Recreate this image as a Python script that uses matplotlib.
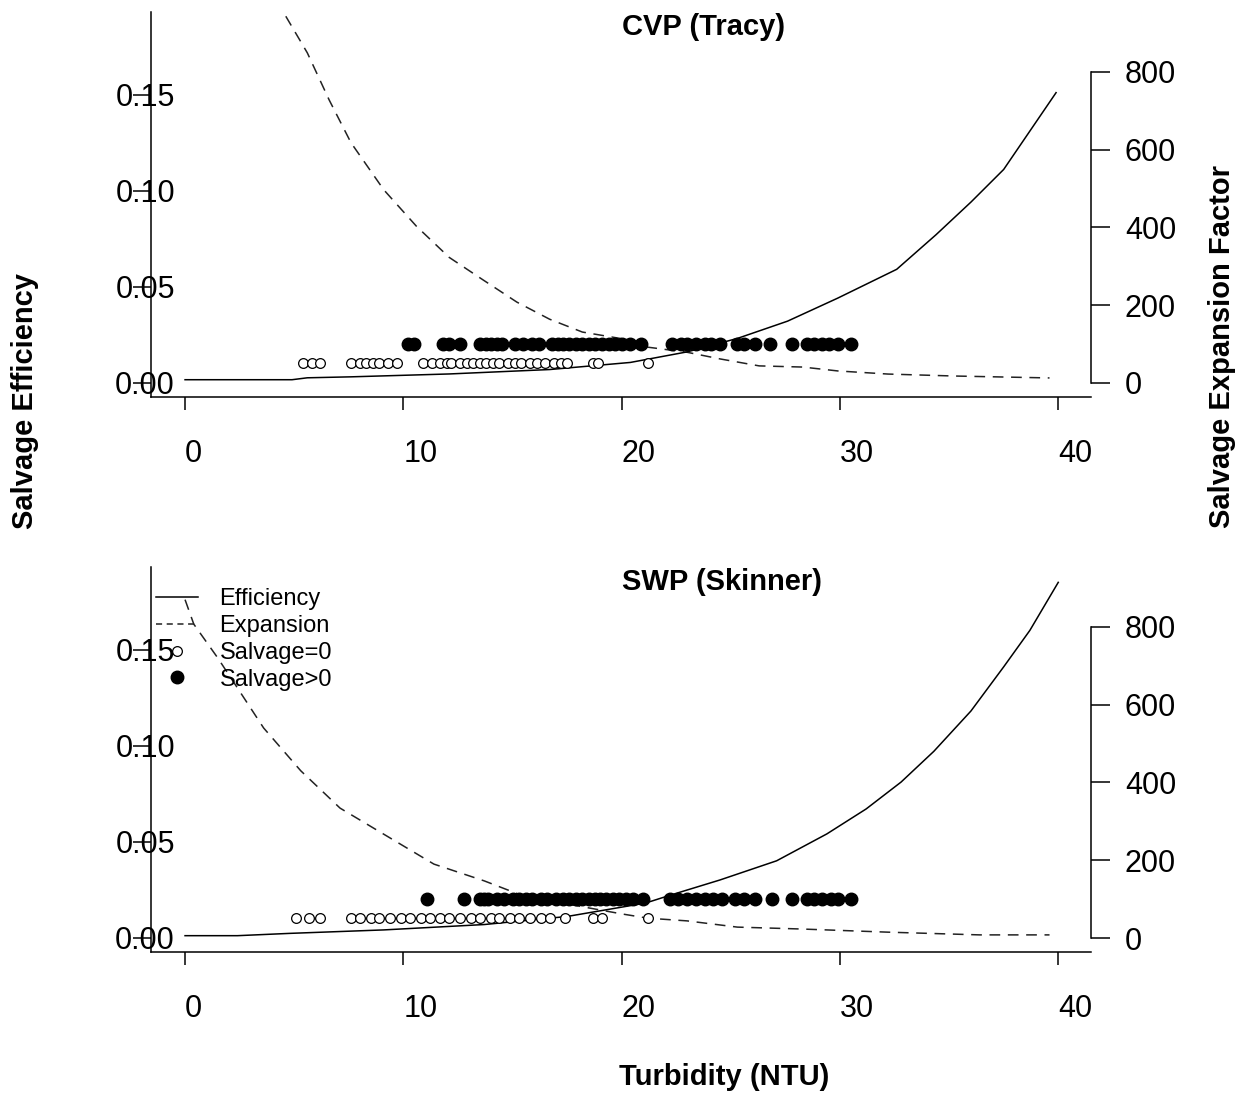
import numpy as np
import matplotlib
matplotlib.use("Agg")
import matplotlib.pyplot as plt
from matplotlib.lines import Line2D
import matplotlib.transforms as mtransforms

plt.rcParams['font.family'] = ['Liberation Sans', 'DejaVu Sans']

# CVP (Tracy) panel
cvp_eff_turb = [0.0, 4.9, 5.6, 7.6, 12.1, 16.7, 20.4, 23.0, 25.3, 27.6, 29.9,
                32.6, 34.4, 36.0, 37.5, 39.0, 39.9]
cvp_eff = [0.0015, 0.0015, 0.0025, 0.003, 0.0045, 0.0068, 0.0105, 0.016, 0.023,
           0.032, 0.044, 0.059, 0.077, 0.094, 0.111, 0.136, 0.151]
cvp_exp_turb = [4.3, 4.5, 5.6, 6.6, 7.6, 9.1, 10.6, 12.1, 13.6, 15.2, 16.7, 18.2,
                20.1, 20.8, 23.0, 24.5, 26.3, 28.3, 29.9, 32.2, 35.2, 39.6]
cvp_exp = [1000, 954, 849, 728, 618, 497, 403, 323, 267, 208, 164, 131,
           113, 95, 79, 62, 44, 41, 31, 23, 18, 13]
cvp_zero = [5.4, 5.8, 6.2, 7.6, 8.0, 8.3, 8.6, 8.9, 9.3, 9.7, 10.9, 11.3, 11.7,
            12.0, 12.2, 12.6, 12.9, 13.2, 13.5, 13.8, 14.1, 14.4, 14.8, 15.1,
            15.4, 15.8, 16.1, 16.5, 16.9, 17.2, 17.5, 18.7, 18.9, 21.2]
cvp_pos = [10.2, 10.5, 11.8, 12.1, 12.6, 13.5, 13.8, 14.0, 14.3, 14.5, 15.1,
           15.5, 15.9, 16.2, 16.8, 17.1, 17.3, 17.6, 17.9, 18.2, 18.5, 18.8,
           19.1, 19.4, 19.7, 20.0, 20.4, 20.9, 22.3, 22.7, 23.0, 23.4, 23.8,
           24.1, 24.5, 25.3, 25.6, 26.1, 26.8, 27.8, 28.5, 28.8, 29.2, 29.5,
           29.9, 30.5]

# SWP (Skinner) panel
swp_eff_turb = [0.0, 2.4, 4.8, 9.1, 13.7, 17.5, 21.1, 22.2, 24.5, 27.1, 29.4,
                31.2, 32.8, 34.3, 36.0, 37.5, 38.7, 40.0]
swp_eff = [0.001, 0.001, 0.0022, 0.004, 0.0068, 0.011, 0.018, 0.022, 0.030,
           0.040, 0.054, 0.067, 0.081, 0.097, 0.118, 0.141, 0.160, 0.185]
swp_exp_turb = [0.0, 0.4, 1.5, 2.4, 3.6, 5.3, 7.1, 9.1, 11.4, 13.7, 15.5, 20.0,
                21.2, 23.0, 25.3, 28.3, 32.2, 36.4, 39.6]
swp_exp = [870, 807, 720, 643, 540, 430, 334, 267, 190, 147, 108, 62,
           51, 44, 28, 23, 15, 8, 8]
swp_zero = [5.1, 5.7, 6.2, 7.6, 8.0, 8.5, 8.9, 9.4, 9.9, 10.3, 10.8, 11.2, 11.7,
            12.1, 12.6, 13.1, 13.5, 14.0, 14.4, 14.9, 15.3, 15.8, 16.3, 16.7,
            17.4, 18.7, 19.1, 21.2]
swp_pos = [11.1, 12.8, 13.5, 13.7, 13.9, 14.3, 14.6, 15.0, 15.3, 15.6, 15.9,
           16.3, 16.6, 17.0, 17.3, 17.6, 17.9, 18.2, 18.5, 18.8, 19.0, 19.3,
           19.6, 19.9, 20.2, 20.5, 21.0, 22.2, 22.6, 23.0, 23.4, 23.8, 24.2,
           24.6, 25.2, 25.6, 26.1, 26.9, 27.8, 28.5, 28.8, 29.2, 29.6, 29.9,
           30.5]

zero_level = 0.01
pos_level = 0.02

panels = [
    ("CVP (Tracy)", cvp_eff_turb, cvp_eff, cvp_exp_turb, cvp_exp, cvp_zero, cvp_pos),
    ("SWP (Skinner)", swp_eff_turb, swp_eff, swp_exp_turb, swp_exp, swp_zero, swp_pos),
]

W, H = 1247, 1093
fig = plt.figure(figsize=(W / 100, H / 100), dpi=100)

px = 72 / 100  # points per pixel
boxes = [(151, 12, 1091, 397), (151, 567, 1091, 952)]

for i, (title, et, ev, xt, xv, z, p) in enumerate(panels):
    l, t, r, b = boxes[i]
    ax = fig.add_axes([l / W, 1 - b / H, (r - l) / W, (b - t) / H])
    ax2 = ax.twinx()
    ax.set_zorder(ax2.get_zorder() + 1)
    ax.patch.set_visible(False)

    ax.plot(et, ev, color='black', lw=1.1, solid_joinstyle='round')
    ax2.plot(xt, xv, color='#222222', lw=1.1, dashes=(7, 5))
    ax.plot(z, [zero_level] * len(z), 'o', mfc='white', mec='black', ms=7, mew=0.9)
    ax.plot(p, [pos_level] * len(p), 'o', color='black', ms=9)

    ax.set_xlim(-1.56, 41.5)
    ax.set_ylim(-0.0075, 0.193)
    ax2.set_ylim(-36, 954)

    for s in ['top', 'right']:
        ax.spines[s].set_visible(False)
    for s in ['top', 'left', 'bottom']:
        ax2.spines[s].set_visible(False)
    ax2.spines['right'].set_bounds(0, 800)
    for s in ax.spines.values():
        s.set_linewidth(1.1)
    ax2.spines['right'].set_linewidth(1.1)

    ax.set_xticks([0, 10, 20, 30, 40])
    ax.set_yticks([0.0, 0.05, 0.10, 0.15])
    ax.set_yticklabels(['0.00', '0.05', '0.10', '0.15'])
    ax2.set_yticks([0, 200, 400, 600, 800])

    ax.tick_params(axis='x', direction='out', length=13 * px, width=1.1,
                   labelsize=22, pad=21)
    ax.tick_params(axis='y', direction='out', length=18 * px, width=1.1,
                   labelsize=22, pad=-42 * px)
    ax2.tick_params(axis='y', direction='out', length=19 * px, width=1.1,
                    labelsize=22, pad=15 * px)
    for lab in ax.get_xticklabels():
        lab.set_horizontalalignment('left')

    trans = mtransforms.blended_transform_factory(ax.transData, ax.transAxes)
    ax.text(20, 0.96, title, transform=trans, ha='left', va='center',
            fontsize=21, fontweight='bold')

    if i == 1:
        handles = [
            Line2D([], [], color='black', lw=1.1),
            Line2D([], [], color='#222222', lw=1.1, dashes=(4, 3)),
            Line2D([], [], ls='none', marker='o', mfc='white', mec='black', ms=7, mew=0.9),
            Line2D([], [], ls='none', marker='o', color='black', ms=9),
        ]
        ax.legend(handles, ['Efficiency', 'Expansion', 'Salvage=0', 'Salvage>0'],
                  loc='upper left', bbox_to_anchor=(-0.005, 0.969), frameon=False,
                  fontsize=17, handlelength=1.8, handletextpad=0.9,
                  labelspacing=0.2, borderaxespad=0.2, borderpad=0.2)

fig.text(25 / W, 1 - 401 / H, 'Salvage Efficiency', rotation=90, ha='center',
         va='center', fontsize=21, fontweight='bold')
fig.text(1222 / W, 1 - 347 / H, 'Salvage Expansion Factor', rotation=90,
         ha='center', va='center', fontsize=21, fontweight='bold')
fig.text(724 / W, 1 - 1077 / H, 'Turbidity (NTU)', ha='center', va='center',
         fontsize=21, fontweight='bold')

fig.savefig('out.png', dpi=100)
